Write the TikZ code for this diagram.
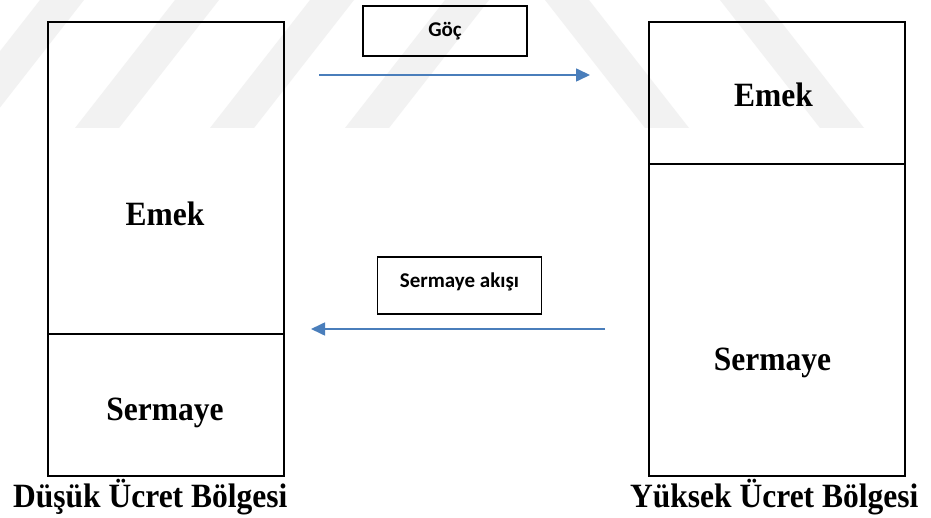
\documentclass[tikz,border=0pt]{standalone}
\usepackage{graphicx}
\usepackage{fontspec}
\setmainfont{Liberation Serif}
\newfontfamily\labelsans{Carlito}
\usetikzlibrary{arrows.meta}
\definecolor{flowblue}{RGB}{74,126,187}
\definecolor{wmark}{RGB}{242,242,242}
\newcommand{\talltext}[1]{\scalebox{1}[1.08]{#1}}
\tikzset{
  region/.style={draw=black, line width=2pt},
  bigtext/.style={font=\fontsize{31.5}{36}\selectfont\bfseries, inner sep=0pt, anchor=base},
  tagbox/.style={draw=black, line width=1.2pt, minimum width=164pt, inner sep=0pt},
  tagtext/.style={font=\labelsans\fontsize{21}{24}\selectfont\bfseries, inner sep=0pt, anchor=base},
  flow/.style={draw=flowblue, line width=1.6pt, -{Triangle[length=14pt,width=13pt]}},
  stripe/.style={fill=wmark, draw=none}
}
\begin{document}
\begin{tikzpicture}[x=1pt,y=-1pt]
\useasboundingbox (0,0) rectangle (931,518);
\fill[white] (0,0) rectangle (931,518);
% faint watermark stripes
\foreach \a in {-60,75,210,345}{
  \fill[stripe] (\a,128) -- (\a+44,128) -- (\a+144,0) -- (\a+100,0) -- cycle;
}
\foreach \a in {545,720}{
  \fill[stripe] (\a,0) -- (\a+44,0) -- (\a+144,128) -- (\a+100,128) -- cycle;
}
% low wage region
\draw[region] (48,22) rectangle (284,476);
\draw[region] (48,334) -- (284,334);
% high wage region
\draw[region] (649,22) rectangle (905,476);
\draw[region] (649,164) -- (905,164);
% texts inside regions
\node[bigtext] (lemek) at (165,226) {\talltext{Emek}};
\node[bigtext] (lserm) at (165,420) {\talltext{Sermaye}};
\node[bigtext] (remek) at (773.5,107) {\talltext{Emek}};
\node[bigtext] (rserm) at (772.5,370) {\talltext{Sermaye}};
% captions
\node[bigtext, anchor=base west] (lcap) at (13,507) {\talltext{Düşük Ücret Bölgesi}};
\node[bigtext, anchor=base west] (rcap) at (630,507) {\talltext{Yüksek Ücret Bölgesi}};
% tag boxes
\node[tagbox, minimum height=50pt] (gocbox) at (445,31) {};
\node[tagtext] (goc) at (445,37) {Göç};
\node[tagbox, minimum height=57pt] (sabox) at (459.5,285.5) {};
\node[tagtext] (sa) at (459.5,288) {Sermaye akışı};
% arrows
\coordinate (g1) at (319,75);
\coordinate (g2) at (590,75);
\coordinate (s1) at (605,329);
\coordinate (s2) at (311,329);
\draw[flow] (g1) -- (g2);
\draw[flow] (s1) -- (s2);
\end{tikzpicture}
\end{document}
